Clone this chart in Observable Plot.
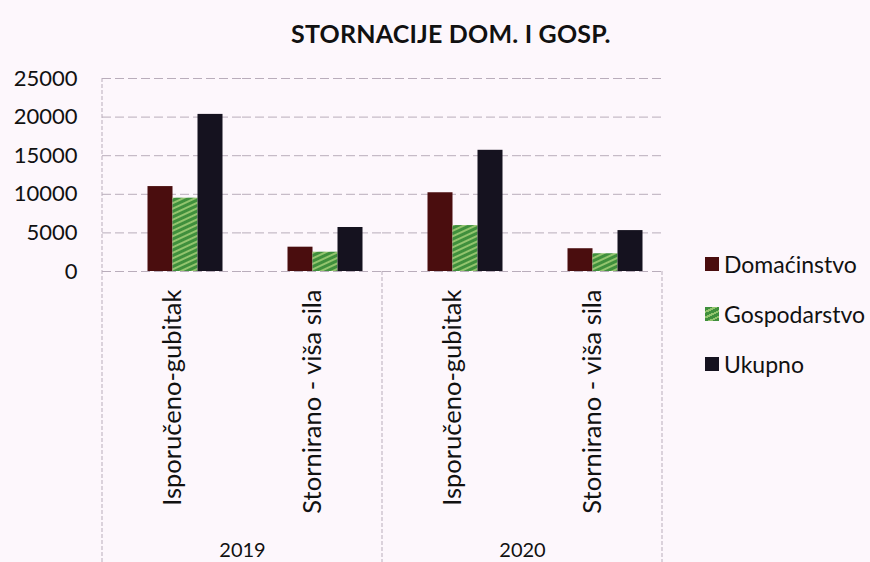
<!DOCTYPE html>
<html>
<head>
<meta charset="utf-8">
<script src="https://cdn.jsdelivr.net/npm/d3@7"></script>
<script src="https://cdn.jsdelivr.net/npm/@observablehq/plot@0.6"></script>
<style>
  html, body { margin: 0; padding: 0; background: #fdf7fc; }
  body { width: 870px; height: 562px; position: relative; overflow: hidden; font-family: Lato, "Open Sans", sans-serif; }
  #title { position: absolute; top: 18px; left: 291px; font-weight: 700; font-size: 25px; letter-spacing: 0.2px; color: #111; white-space: nowrap; }
  #chart { position: absolute; left: 0; top: 0; }
  #legend { position: absolute; left: 705px; top: 239px; font-size: 23px; color: #111; }
  .item { display: flex; align-items: center; height: 50px; }
  .sw { width: 14px; height: 14px; margin-right: 5px; }
</style>
</head>
<body>
<div id="title">STORNACIJE DOM. I GOSP.</div>
<div id="chart"></div>
<div id="legend"></div>
<script>
// ---- data ----
const years = ["2019", "2020"];
const categories = ["Isporučeno-gubitak", "Stornirano - viša sila"];
const series = ["Domaćinstvo", "Gospodarstvo", "Ukupno"];
// order: 2019 Isporučeno, 2019 Stornirano, 2020 Isporučeno, 2020 Stornirano
const domacinstvo = [11000, 3150, 10200, 2950];
const gospodarstvo = [9500, 2500, 5950, 2300];
const ukupno = [20350, 5700, 15700, 5300];
const yTicks = [0, 5000, 10000, 15000, 20000, 25000];
const colors = ["#4a0d0e", "url(#gospHatch)", "#15121f"];

// ---- build table ----
const keys = [];
years.forEach(y => categories.forEach(c => keys.push(y + "|" + c)));
const valuesBySeries = [domacinstvo, gospodarstvo, ukupno];
const rows = [];
keys.forEach((k, i) => series.forEach((s, j) => rows.push({key: k, series: s, value: valuesBySeries[j][i]})));
const yearRows = years.map(y => ({key: y + "|" + categories[0], year: y}));

const gridColor = "#b9adbb";

const plot = Plot.plot({
  width: 870,
  height: 562,
  marginTop: 78,
  marginLeft: 100,
  marginRight: 207,
  marginBottom: 291,
  style: {background: "transparent", fontFamily: "Lato, 'Open Sans', sans-serif", fontSize: "21px", color: "#111", overflow: "visible"},
  fx: {domain: keys, padding: 0, label: null},
  x: {domain: series, paddingInner: 0, paddingOuter: 1.24, axis: null},
  y: {domain: [0, 25000], label: null},
  color: {domain: series, range: colors},
  marks: [
    Plot.gridY(yTicks, {stroke: gridColor, strokeOpacity: 1, strokeDasharray: "9,4"}),
    Plot.barY(rows, {fx: "key", x: "series", y: "value", fill: "series", dx: 12.5}),
    Plot.axisY(yTicks, {tickSize: 0, tickPadding: 25, label: null, fontSize: 22, tickFormat: d => String(d)}),
    Plot.axisFx({anchor: "bottom", tickRotate: -90, tickSize: 0, tickPadding: 18, label: null,
      fontSize: 25.5, tickFormat: k => k.split("|")[1]}),
    Plot.text(yearRows, {fx: "key", text: "year", frameAnchor: "bottom-right", lineAnchor: "middle",
      textAnchor: "middle", dy: 279, fontSize: 20})
  ]
});
document.getElementById("chart").appendChild(plot);

// hatch pattern for Gospodarstvo
const svg = d3.select(plot);
const defs = svg.insert("defs", ":first-child");
const pat = defs.append("pattern").attr("id", "gospHatch").attr("patternUnits", "userSpaceOnUse")
  .attr("width", 6).attr("height", 5).attr("patternTransform", "rotate(-25)");
pat.append("rect").attr("width", 6).attr("height", 5).attr("fill", "#3f8f3c");
pat.append("rect").attr("width", 6).attr("height", 2).attr("fill", "#93c46e");

// dividers from the library scales
const fx = plot.scale("fx");
const ys = plot.scale("y");
const bw = fx.bandwidth;
const left = fx.apply(keys[0]);
const zeroY = ys.apply(0);
const topY = ys.apply(25000);
const lines = [
  {x: left, y1: topY, y2: 562},
  {x: fx.apply(keys[1]) + bw, y1: zeroY, y2: 562},
  {x: fx.apply(keys[3]) + bw, y1: zeroY, y2: 562}
];
svg.append("g").selectAll("line").data(lines).join("line")
  .attr("x1", d => d.x).attr("x2", d => d.x).attr("y1", d => d.y1).attr("y2", d => d.y2)
  .attr("stroke", gridColor).attr("stroke-dasharray", "4,2");

// legend
const legend = d3.select("#legend");
series.forEach((s, i) => {
  const it = legend.append("div").attr("class", "item");
  const sw = it.append("div").attr("class", "sw");
  if (i === 1) sw.style("background", "repeating-linear-gradient(-25deg, #3f8f3c 0 3px, #93c46e 3px 5px)");
  else sw.style("background", colors[i]);
  it.append("span").text(s);
});
</script>
</body>
</html>
